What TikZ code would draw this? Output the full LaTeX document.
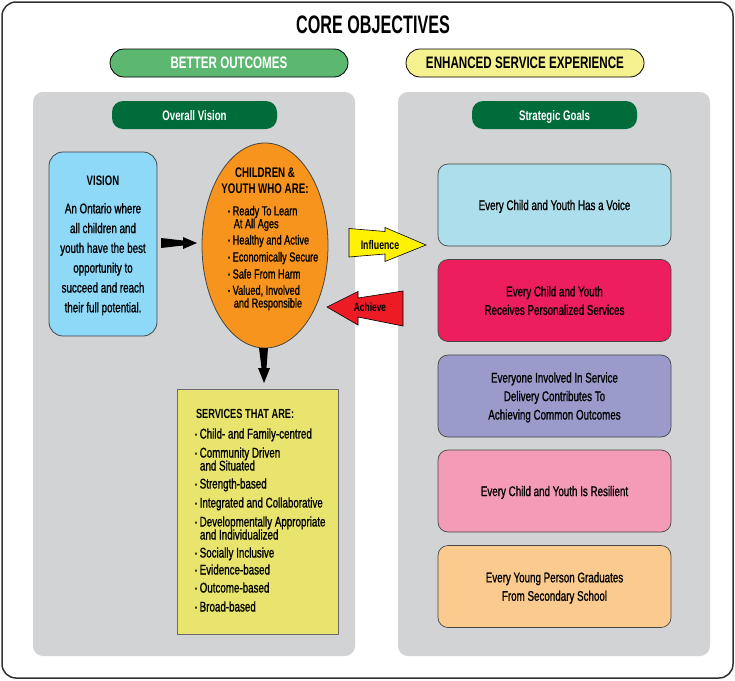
\documentclass[tikz,border=0pt]{standalone}
\usepackage{fontspec}
\setmainfont[FakeStretch=0.7,UprightFeatures={FakeBold=1.0}]{Liberation Sans}
\newfontfamily\titlefont[FakeStretch=0.64]{Liberation Sans}
\usetikzlibrary{shapes.geometric}
\definecolor{panelgray}{RGB}{209,211,212}
\definecolor{framecol}{RGB}{50,50,50}
\definecolor{outgreen}{RGB}{92,183,112}
\definecolor{servyellowpill}{RGB}{246,241,143}
\definecolor{pillgreen}{RGB}{0,108,58}
\definecolor{visionblue}{RGB}{142,216,248}
\definecolor{kidorange}{RGB}{247,148,30}
\definecolor{servbox}{RGB}{232,228,110}
\definecolor{goalA}{RGB}{173,222,236}
\definecolor{goalB}{RGB}{236,30,94}
\definecolor{goalC}{RGB}{155,155,203}
\definecolor{goalD}{RGB}{244,155,183}
\definecolor{goalE}{RGB}{251,202,142}
\definecolor{infyellow}{RGB}{255,242,0}
\definecolor{achred}{RGB}{237,28,36}
\definecolor{edgegray}{RGB}{70,70,70}
\newcommand\bodysize{\fontsize{14}{18.5}\selectfont}
\newcommand\listsize{\fontsize{13.1}{15}\selectfont}
\newcommand\mybul{\makebox[4.7pt][l]{\fontsize{8}{8}\selectfont\raisebox{1.2pt}{•}}}
\newcommand\twoline[4]{\vtop{\baselineskip=#3\lineskiplimit=-100pt\relax\hbox{\mybul #1}\hbox{\hspace*{#4}#2}}}
\begin{document}
\begin{tikzpicture}[x=1pt,y=-1pt,
  every node/.style={inner sep=0pt,outer sep=0pt},
  panel/.style={fill=panelgray,rounded corners=10pt,minimum height=564pt},
  hpill/.style={draw=black,line width=0.8pt,rounded corners=14pt,minimum width=238pt,minimum height=28pt,
     font=\fontsize{16.6}{18}\selectfont\bfseries,text depth=0pt},
  spill/.style={fill=pillgreen,rounded corners=11pt,minimum width=165pt,minimum height=28pt,
     font=\fontsize{13.8}{15}\selectfont\bfseries,text=white,text depth=0pt},
  goal/.style={draw=edgegray,line width=0.7pt,rounded corners=10pt,minimum width=233pt,minimum height=82pt,
     align=center,font=\bodysize,text depth=0pt},
  vline/.style={anchor=base,font=\bodysize},
  kidbul/.style={anchor=base west,font=\listsize},
  servbul/.style={anchor=base west,font=\bodysize},
  arrowlabel/.style={font=\fontsize{12.5}{14}\selectfont\bfseries,text depth=0pt},
  bigarrow/.style={draw=black,line width=0.6pt,line join=miter}
]
\useasboundingbox (0,0) rectangle (735,680);
\draw[framecol,line width=1.5pt,rounded corners=14pt,fill=white] (2,2) rectangle (733,678);

% title
\node[anchor=base,font=\titlefont\bfseries\fontsize{25.3}{27}\selectfont] (title) at (373,33) {CORE OBJECTIVES};

% header pills
\node[hpill,fill=outgreen,text=white] (better) at (229,63) {BETTER OUTCOMES};
\node[hpill,fill=servyellowpill] (enh) at (525,63) {ENHANCED SERVICE EXPERIENCE};

% panels
\node[panel,minimum width=322pt] (lpanel) at (194,374) {};
\node[panel,minimum width=312pt] (rpanel) at (554,374) {};

% small pills
\node[spill] (ov) at (194.5,115) {Overall Vision};
\node[spill] (sg) at (554.5,115) {Strategic Goals};

% vision box
\node[draw=edgegray,line width=0.8pt,fill=visionblue,rounded corners=14pt,minimum width=108pt,minimum height=184pt] (vision) at (103,244) {};
\node[anchor=base,font=\fontsize{13.7}{15}\selectfont\bfseries] (vtitle) at (103,185) {VISION};
\foreach \t/\yy [count=\i] in {An Ontario where/213.3,all children and/233.1,youth have the best/252.9,opportunity to/272.7,succeed and reach/292.5,their full potential./312.3}
  \node[vline] (vl\i) at (103,\yy) {\t};

% children ellipse
\node[draw=edgegray,line width=0.8pt,fill=kidorange,ellipse,minimum width=126pt,minimum height=205pt] (kids) at (265,245.5) {};
\node[anchor=base,font=\fontsize{13.9}{15}\selectfont\bfseries] (kh1) at (265,177) {CHILDREN \&};
\node[anchor=base,font=\fontsize{13.9}{15}\selectfont\bfseries] (kh2) at (265,193) {YOUTH WHO ARE:};
\node[kidbul] (kb1) at (228,215.4) {\twoline{Ready To Learn}{At All Ages}{12.8pt}{5.8pt}};
\foreach \t/\yy [count=\i from 2] in {Healthy and Active/244.5,Economically Secure/261.5,Safe From Harm/278.5}
  \node[kidbul] (kb\i) at (228,\yy) {\mybul\t};
\node[kidbul] (kb5) at (228,294.8) {\twoline{Valued, Involved}{and Responsible}{12.8pt}{5.8pt}};

% black arrows
\fill[black] (161,238) -- (183,240.5) -- (183,237) -- (197,243) -- (183,249) -- (183,245.5) -- (161,248) -- cycle;
\fill[black] (259,348) -- (268,348) -- (266.5,368) -- (270,368) -- (264,383) -- (258,368) -- (261.5,368) -- cycle;

% services box
\node[draw=edgegray!80,line width=0.8pt,fill=servbox,minimum width=161pt,minimum height=245pt] (serv) at (257.5,511.5) {};
\node[anchor=base west,font=\fontsize{13.2}{15}\selectfont\bfseries] (sh) at (196,418) {SERVICES THAT ARE:};
\node[servbul] (sb1) at (195,438.5) {\mybul Child- and Family-centred};
\node[servbul] (sb2) at (195,457.5) {\twoline{Community Driven}{and Situated}{13pt}{5pt}};
\foreach \t/\yy [count=\i from 3] in {Strength-based/488.5,Integrated and Collaborative/507.5}
  \node[servbul] (sb\i) at (195,\yy) {\mybul\t};
\node[servbul] (sb5) at (195,526.5) {\twoline{Developmentally Appropriate}{and Individualized}{13pt}{5pt}};
\foreach \t/\yy [count=\i from 6] in {Socially Inclusive/557.5,Evidence-based/574.5,Outcome-based/592.5,Broad-based/611.5}
  \node[servbul] (sb\i) at (195,\yy) {\mybul\t};

% influence / achieve arrows
\draw[bigarrow,fill=infyellow] (349,228.5) -- (385,231.5) -- (385,227.5) -- (426,245) -- (385,261.5) -- (385,254) -- (349,257) -- cycle;
\node[arrowlabel] (infl) at (380,245) {Influence};
\draw[bigarrow,fill=achred] (327,307) -- (358,291.5) -- (358,298) -- (403,291) -- (403,326) -- (358,317) -- (358,325) -- cycle;
\node[arrowlabel,font=\fontsize{12}{14}\selectfont\bfseries] (ach) at (370,307.5) {Achieve};

% strategic goals
\node[goal,fill=goalA] (g1) at (554.5,205) {Every Child and Youth Has a Voice};
\node[goal,fill=goalB] (g2) at (554.5,300.5) {Every Child and Youth\\Receives Personalized Services};
\node[goal,fill=goalC] (g3) at (554.5,396) {Everyone Involved In Service\\Delivery Contributes To\\Achieving Common Outcomes};
\node[goal,fill=goalD] (g4) at (554.5,491) {Every Child and Youth Is Resilient};
\node[goal,fill=goalE] (g5) at (554.5,586.5) {Every Young Person Graduates\\From Secondary School};
\end{tikzpicture}
\end{document}
